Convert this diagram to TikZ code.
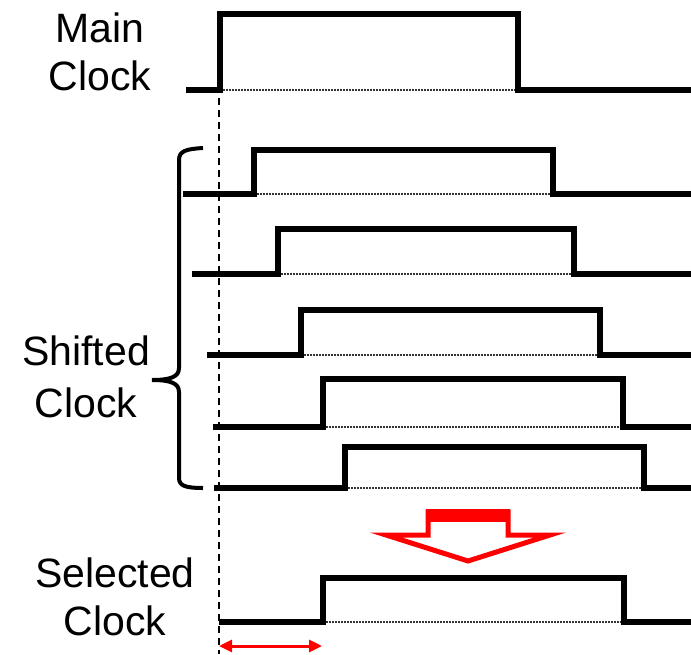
\documentclass[tikz,border=0pt]{standalone}
\usepackage{fontspec}
\setmainfont{Liberation Sans}
\usetikzlibrary{arrows.meta}

% one clock trace: low level, high level, start, rising edge, falling edge, end
\newcommand\clocktrace[6]{%
  \draw[idleline] (#4,#1) -- (#5,#1);
  \draw[waveline] (#3,#1) -- (#4,#1) -- (#4,#2) -- (#5,#2) -- (#5,#1) -- (#6,#1);
}

\tikzset{
  waveline/.style={line width=5.5pt, line join=miter, black},
  idleline/.style={line width=1.3pt, dash pattern=on 1.5pt off 1.5pt, black!80},
  label/.style={font=\fontsize{41}{48}\selectfont, anchor=base, inner sep=0pt},
  refline/.style={line width=1.5pt, dash pattern=on 7pt off 5pt, black},
  bracket/.style={line width=4pt, black},
  hollowarrow/.style={line width=5pt, draw=red, line join=miter, fill=white},
  skewarrow/.style={line width=3pt, red, {Triangle[length=13pt,width=12pt]}-{Triangle[length=13pt,width=12pt]}}
}

\begin{document}
\begin{tikzpicture}[x=1pt,y=-1pt]
  \useasboundingbox (0,0) rectangle (691,654);

  % labels
  \node[label] (main1) at (100,42) {Main};
  \node[label] (main2) at (100,90) {Clock};
  \node[label] (shift1) at (86,365) {Shifted};
  \node[label] (shift2) at (86,417) {Clock};
  \node[label] (sel1) at (115,587) {Selected};
  \node[label] (sel2) at (115,635) {Clock};

  % reference edge of the main clock
  \coordinate (reftop) at (219,98);
  \coordinate (refbot) at (219,654);
  \draw[refline] (reftop) -- (refbot);

  % main clock
  \clocktrace{90}{14}{186}{220}{518}{691}

  % shifted clock phases
  \clocktrace{194}{150}{183}{254}{553}{691}
  \clocktrace{274}{229}{192}{278}{574}{691}
  \clocktrace{355}{310}{207}{301}{600}{691}
  \clocktrace{427}{379}{213}{323}{623}{691}
  \clocktrace{488}{447}{214}{345}{644}{691}

  % brace grouping the shifted clocks
  \draw[bracket] (203,148) .. controls (186,149) and (179,151) .. (179,160)
    -- (179,368) .. controls (179,377) and (170,380) .. (152,380)
    .. controls (170,380) and (179,383) .. (179,392)
    -- (179,478) .. controls (179,486) and (186,488) .. (203,488);

  % selection arrow
  \draw[hollowarrow] (428,512) -- (508,512) -- (508,535) -- (550,535)
    -- (468,561) -- (386,535) -- (428,535) -- cycle;
  \fill[red] (426,509) rectangle (510,522);

  % selected clock
  \clocktrace{622}{578}{219}{323}{624}{691}

  % phase offset of the selected clock
  \coordinate (skewa) at (219,646);
  \coordinate (skewb) at (322,646);
  \draw[skewarrow] (skewa) -- (skewb);
\end{tikzpicture}
\end{document}
